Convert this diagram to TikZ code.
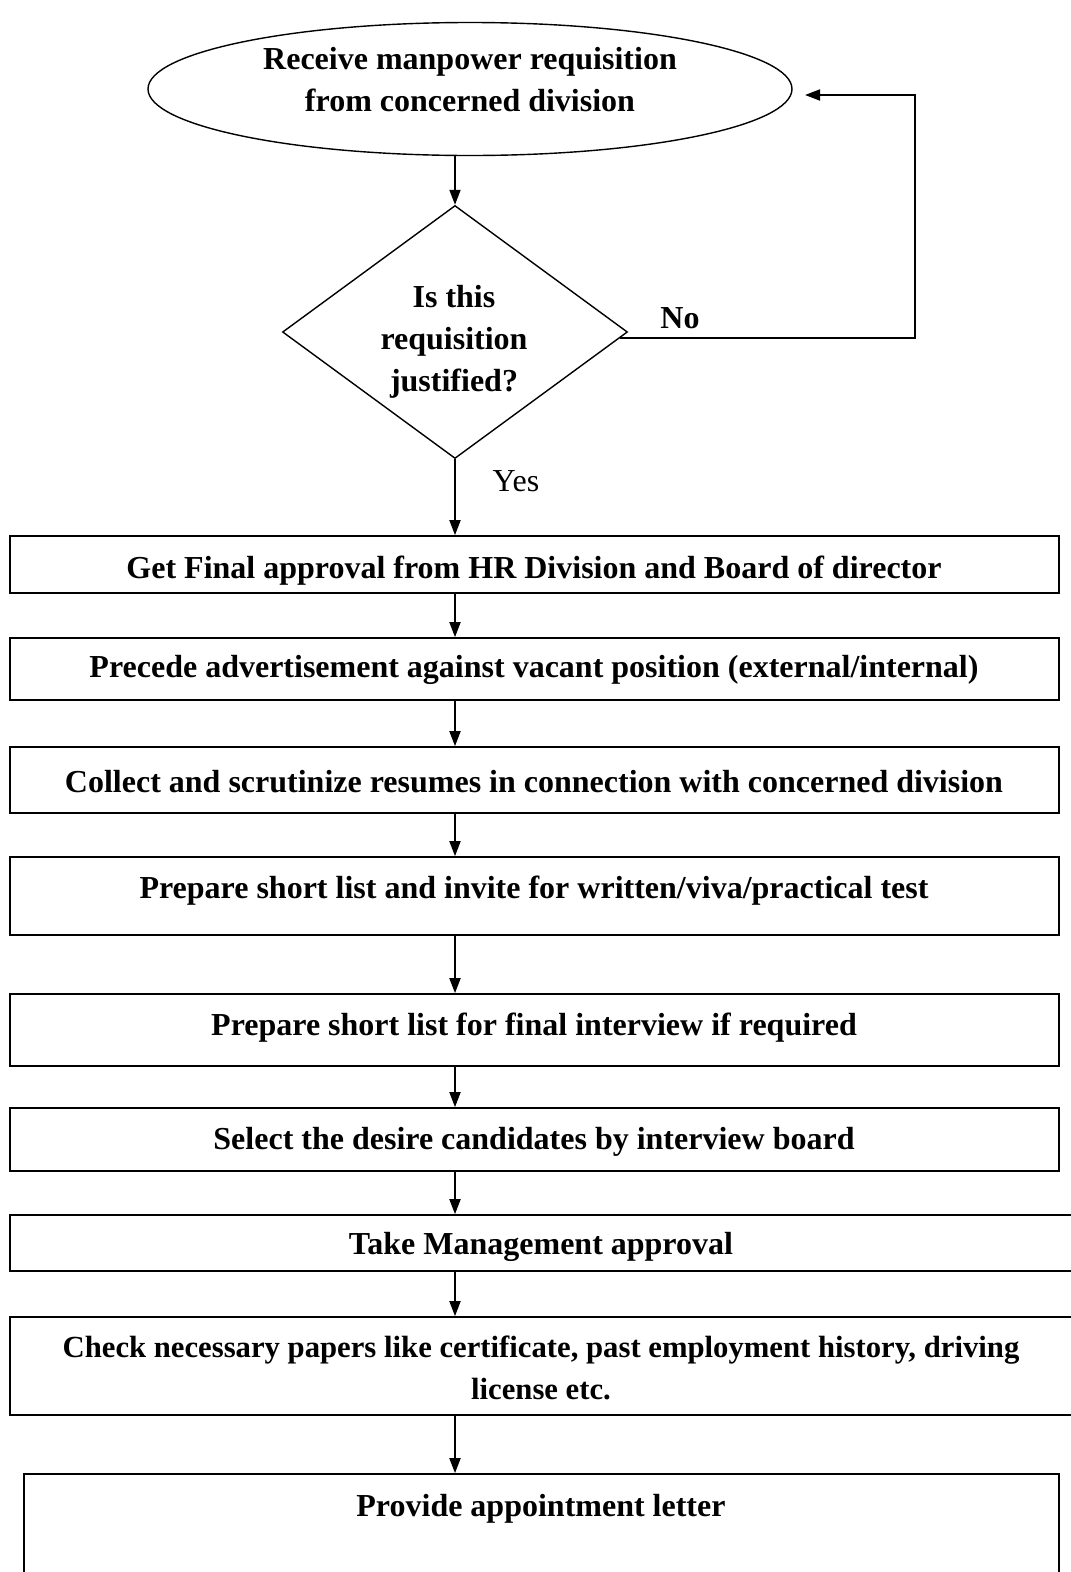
\documentclass[tikz,border=0pt]{standalone}
\usepackage{fontspec}
\setmainfont{Liberation Serif}
\usetikzlibrary{shapes.geometric,arrows.meta,calc}

\tikzset{
  txt/.style={font=\bfseries\fontsize{32}{42}\selectfont, align=center, inner sep=0pt},
  plaintxt/.style={font=\fontsize{32}{42}\selectfont, inner sep=0pt},
  stepbox/.style={draw, rectangle, line width=1.7pt, inner sep=0pt, minimum width=1049pt},
  startshape/.style={draw, ellipse, line width=1.4pt, inner sep=0pt, minimum width=644pt, minimum height=133pt},
  choice/.style={draw, diamond, line width=1.4pt, inner sep=0pt, minimum width=345pt, minimum height=253pt},
  flow/.style={line width=1.8pt, -{Triangle[length=15pt,width=11pt]}}
}

\begin{document}
\begin{tikzpicture}[x=1pt,y=-1pt]
  \useasboundingbox (0,0) rectangle (1071,1572);
  \clip (0,0) rectangle (1071,1572);

  % start of the process and the justification check
  \node[startshape] (start) at (470,89) {};
  \node[txt] (starttext) at (470,80) {Receive manpower requisition\\from concerned division};

  \node[choice] (dec) at (455,332) {};
  \node[txt] (dectext) at (454,342) {Is this\\requisition\\justified?};

  % recruitment steps
  \node[stepbox, minimum height=57pt] (b1) at (534.5,564.5) {};
  \node[stepbox, minimum height=62pt] (b2) at (534.5,669) {};
  \node[stepbox, minimum height=66pt] (b3) at (534.5,780) {};
  \node[stepbox, minimum height=78pt] (b4) at (534.5,896) {};
  \node[stepbox, minimum height=72pt] (b5) at (534.5,1030) {};
  \node[stepbox, minimum height=63pt] (b6) at (534.5,1139.5) {};
  \node[stepbox, minimum height=56pt, minimum width=1064pt] (b7) at (542,1243) {};
  \node[stepbox, minimum height=98pt, minimum width=1064pt] (b8) at (542,1366) {};
  \node[stepbox, minimum height=130pt, minimum width=1035pt] (b9) at (541.5,1539) {};

  \node[txt] (t1) at (534,571) {Get Final approval from HR Division and Board of director};
  \node[txt] (t2) at (534,670) {Precede advertisement against vacant position (external/internal)};
  \node[txt] (t3) at (534,782) {Collect and scrutinize resumes in connection with concerned division};
  \node[txt] (t4) at (534,891) {Prepare short list and invite for written/viva/practical test};
  \node[txt] (t5) at (534,1028) {Prepare short list for final interview if required};
  \node[txt] (t6) at (534,1142) {Select the desire candidates by interview board};
  \node[txt] (t7) at (541,1247) {Take Management approval};
  \node[txt, font=\bfseries\fontsize{30.7}{42}\selectfont] (t8) at (541,1368) {Check necessary papers like certificate, past employment history, driving\\license etc.};
  \node[txt] (t9) at (541,1509) {Provide appointment letter};

  % branch labels
  \node[txt] (nolabel) at (680,318) {No};
  \node[plaintxt] (yeslabel) at (516,481) {Yes};

  % connectors
  \draw[flow] (dec.north |- start.south) -- (dec.north);
  \coordinate (noexit) at ($(dec.east)!0.05!(dec.south)$);
  \coordinate (noturn) at (915,0 |- noexit);
  \coordinate (noback) at (805,95);
  \draw[flow] (noexit) -- (noturn) -- (noturn |- noback) -- (noback);
  \draw[flow] (dec.south) -- (dec.south |- b1.north);
  \draw[flow] (dec.south |- b1.south) -- (dec.south |- b2.north);
  \draw[flow] (dec.south |- b2.south) -- (dec.south |- b3.north);
  \draw[flow] (dec.south |- b3.south) -- (dec.south |- b4.north);
  \draw[flow] (dec.south |- b4.south) -- (dec.south |- b5.north);
  \draw[flow] (dec.south |- b5.south) -- (dec.south |- b6.north);
  \draw[flow] (dec.south |- b6.south) -- (dec.south |- b7.north);
  \draw[flow] (dec.south |- b7.south) -- (dec.south |- b8.north);
  \draw[flow] (dec.south |- b8.south) -- (dec.south |- b9.north);
\end{tikzpicture}
\end{document}
